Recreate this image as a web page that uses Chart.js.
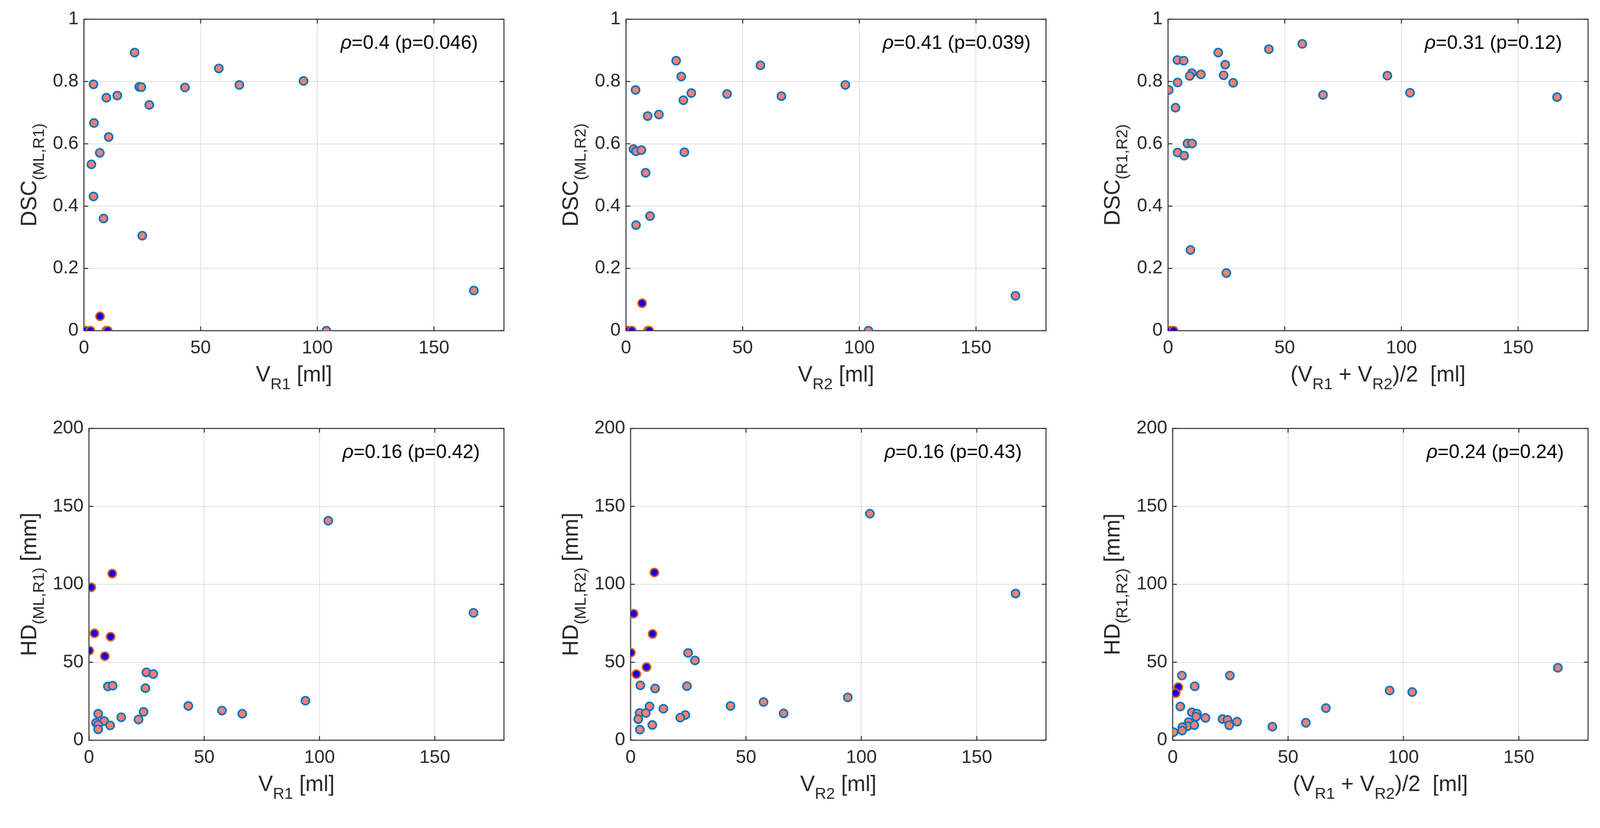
<!DOCTYPE html>
<html><head><meta charset="utf-8">
<script src="https://cdn.jsdelivr.net/npm/chart.js@4.4.0/dist/chart.umd.min.js"></script>
<style>
html,body{margin:0;padding:0;background:#fff;overflow:hidden}
#wrap{position:absolute;left:0;top:0;width:4156px;height:2120px;transform-origin:0 0;background:#fff}
canvas{position:absolute}
</style></head><body>
<div id="wrap"></div>
<script>
// ---------- tick values ----------
const xTicks = [0, 50, 100, 150];
const dscTicks = [0, 0.2, 0.4, 0.6, 0.8, 1];
const hdTicks = [0, 50, 100, 150, 200];

// ---------- panel 1: DSC(ML,R1) vs V_R1 ----------
const p1X = [21.7, 57.8, 4.1, 23.7, 24.6, 43.3, 66.6, 94.1, 9.6, 14.3, 28.0, 4.3, 10.6, 6.8, 3.2, 4.1, 8.4, 25.0, 167.1, 103.9];
const p1Y = [0.893, 0.842, 0.791, 0.783, 0.782, 0.781, 0.789, 0.802, 0.748, 0.755, 0.725, 0.667, 0.622, 0.571, 0.534, 0.431, 0.360, 0.305, 0.129, 0.0];
const p1SX = [0.3, 0.8, 2.8, 6.9, 9.6, 10.2];
const p1SY = [0, 0, 0, 0.046, 0, 0];

// ---------- panel 2: DSC(ML,R2) vs V_R2 ----------
const p2X = [21.5, 57.6, 23.7, 4.1, 94.0, 28.0, 43.3, 66.6, 24.6, 9.3, 14.1, 3.2, 4.3, 6.6, 25.0, 8.4, 10.3, 4.3, 166.9, 103.9];
const p2Y = [0.867, 0.852, 0.816, 0.773, 0.789, 0.763, 0.760, 0.753, 0.740, 0.689, 0.694, 0.583, 0.576, 0.580, 0.573, 0.507, 0.368, 0.339, 0.112, 0.0];
const p2SX = [0.4, 1.0, 2.5, 6.9, 9.4, 10.0];
const p2SY = [0, 0, 0, 0.088, 0, 0];

// ---------- panel 3: DSC(R1,R2) vs mean volume ----------
const p3X = [57.5, 43.2, 21.5, 4.0, 6.7, 24.5, 10.2, 14.1, 9.3, 23.8, 94.0, 4.1, 27.9, 0.3, 103.7, 66.4, 166.7, 3.2, 8.3, 10.3, 4.1, 6.9, 9.6, 25.0];
const p3Y = [0.921, 0.904, 0.893, 0.869, 0.867, 0.854, 0.827, 0.823, 0.818, 0.820, 0.819, 0.797, 0.796, 0.773, 0.764, 0.757, 0.750, 0.716, 0.601, 0.601, 0.572, 0.562, 0.259, 0.185];
const p3SX = [1.1, 2.4];
const p3SY = [0, 0];

// ---------- panel 4: HD(ML,R1) vs V_R1 ----------
const p4X = [103.8, 166.8, 93.9, 43.1, 57.7, 66.5, 24.9, 27.9, 8.2, 10.3, 24.5, 23.7, 21.5, 14.0, 4.0, 6.6, 3.1, 4.0, 9.2, 4.0];
const p4Y = [140.8, 81.7, 25.4, 22.0, 19.0, 17.0, 43.5, 42.5, 34.5, 35.0, 33.4, 18.2, 13.3, 14.7, 17.0, 12.3, 11.2, 9.8, 9.5, 7.0];
const p4SX = [1.0, 10.1, 2.4, 9.4, 0.1, 6.9];
const p4SY = [98.1, 106.9, 68.6, 66.4, 57.5, 53.9];

// ---------- panel 5: HD(ML,R2) vs V_R2 ----------
const p5X = [103.7, 166.8, 94.1, 57.6, 43.3, 66.3, 24.9, 27.9, 24.4, 4.2, 10.6, 8.2, 14.2, 23.7, 21.5, 3.9, 6.6, 3.3, 9.4, 4.0];
const p5Y = [145.3, 94.1, 27.5, 24.5, 22.0, 17.2, 56.0, 51.2, 34.7, 35.2, 33.2, 21.7, 20.2, 16.2, 14.5, 17.5, 17.5, 13.5, 9.8, 6.8];
const p5SX = [10.3, 1.3, 9.5, 0.1, 6.9, 2.5];
const p5SY = [107.6, 81.2, 68.2, 56.2, 46.9, 42.4];

// ---------- panel 6: HD(R1,R2) vs mean volume ----------
const p6X = [166.9, 94.0, 103.8, 66.4, 57.7, 43.2, 24.8, 4.0, 9.55, 3.3, 8.3, 10.5, 10.2, 14.2, 21.6, 23.8, 27.9, 24.5, 6.9, 6.5, 9.4, 4.2, 4.1, 0.4];
const p6Y = [46.5, 31.9, 30.9, 20.6, 11.2, 8.7, 41.5, 41.5, 34.6, 21.6, 17.9, 17.1, 15.1, 14.3, 13.6, 13.1, 11.9, 9.6, 11.6, 9.0, 9.7, 8.4, 6.2, 5.2];
const p6SX = [2.45, 1.3];
const p6SY = [34.1, 30.2];

// ---------- annotation texts ----------
const rhoTexts = ['=0.4 (p=0.046)', '=0.41 (p=0.039)', '=0.31 (p=0.12)', '=0.16 (p=0.42)', '=0.16 (p=0.43)', '=0.24 (p=0.24)'];

// ---------- labels (segments: [text, isSubscript]) ----------
const xLabelR1 = [['V', 0], ['R1', 1], [' [ml]', 0]];
const xLabelR2 = [['V', 0], ['R2', 1], [' [ml]', 0]];
const xLabelMean = [['(V', 0], ['R1', 1], [' + V', 0], ['R2', 1], [')/2  [ml]', 0]];
const yLabels = [
  [['DSC', 0], ['(ML,R1)', 1]],
  [['DSC', 0], ['(ML,R2)', 1]],
  [['DSC', 0], ['(R1,R2)', 1]],
  [['HD', 0], ['(ML,R1)', 1], [' [mm]', 0]],
  [['HD', 0], ['(ML,R2)', 1], [' [mm]', 0]],
  [['HD', 0], ['(R1,R2)', 1], [' [mm]', 0]]
];

// ---------- layout & style ----------
const FONT = "'Liberation Sans', Arial, Helvetica, sans-serif";
const TXT = '#262626';
const LAYOUT = [
  {L: 218, T: 50, R: 1309, B: 859, yl: 124},
  {L: 1626, T: 50, R: 2717, B: 859, yl: 125},
  {L: 3034, T: 50, R: 4125, B: 859, yl: 126},
  {L: 231, T: 1113, R: 1309, B: 1923, yl: 137},
  {L: 1638, T: 1113, R: 2717, B: 1923, yl: 137},
  {L: 3046, T: 1113, R: 4125, B: 1923, yl: 138}
];
const PADL = 240, PADT = 50, PADR = 30, PADB = 230;
const MAIN = 57, SUB = 41, SUBDY = 20;

const panels = [
  {x: p1X, y: p1Y, sx: p1SX, sy: p1SY, yTicks: dscTicks, yMax: 1, xl: xLabelR1},
  {x: p2X, y: p2Y, sx: p2SX, sy: p2SY, yTicks: dscTicks, yMax: 1, xl: xLabelR2},
  {x: p3X, y: p3Y, sx: p3SX, sy: p3SY, yTicks: dscTicks, yMax: 1, xl: xLabelMean},
  {x: p4X, y: p4Y, sx: p4SX, sy: p4SY, yTicks: hdTicks, yMax: 200, xl: xLabelR1},
  {x: p5X, y: p5Y, sx: p5SX, sy: p5SY, yTicks: hdTicks, yMax: 200, xl: xLabelR2},
  {x: p6X, y: p6Y, sx: p6SX, sy: p6SY, yTicks: hdTicks, yMax: 200, xl: xLabelMean}
];

// fit the 4156x2120 design into the actual viewport
const wrap = document.getElementById('wrap');
const vw = window.innerWidth || 4156, vh = window.innerHeight || 2120;
const k = Math.min(vw / 4156, vh / 2120);
wrap.style.transform = 'scale(' + k + ')';

function drawSegs(ctx, segs, cx, baseY) {
  let total = 0;
  const widths = segs.map(([t, s]) => {
    ctx.font = (s ? SUB : MAIN) + 'px ' + FONT;
    const w = ctx.measureText(t).width; total += w; return w;
  });
  let x = cx - total / 2;
  segs.forEach(([t, s], i) => {
    ctx.font = (s ? SUB : MAIN) + 'px ' + FONT;
    ctx.fillText(t, x, baseY + (s ? SUBDY : 0));
    x += widths[i];
  });
}

panels.forEach((p, idx) => {
  const lay = LAYOUT[idx];
  const cv = document.createElement('canvas');
  const W = (lay.R - lay.L) + PADL + PADR;
  const H = (lay.B - lay.T) + PADT + PADB;
  cv.width = W; cv.height = H;
  cv.style.left = (lay.L - PADL) + 'px';
  cv.style.top = (lay.T - PADT) + 'px';
  cv.style.width = W + 'px'; cv.style.height = H + 'px';
  wrap.appendChild(cv);

  const deco = {
    id: 'deco' + idx,
    beforeDatasetsDraw(chart) {
      const {ctx, chartArea: a, scales} = chart;
      ctx.save();
      ctx.strokeStyle = TXT; ctx.lineWidth = 2.5;
      ctx.strokeRect(a.left, a.top, a.right - a.left, a.bottom - a.top);
      const tl = 11;
      ctx.beginPath();
      xTicks.forEach(v => {
        const px = scales.x.getPixelForValue(v);
        ctx.moveTo(px, a.bottom); ctx.lineTo(px, a.bottom - tl);
        ctx.moveTo(px, a.top); ctx.lineTo(px, a.top + tl);
      });
      p.yTicks.forEach(v => {
        const py = scales.y.getPixelForValue(v);
        ctx.moveTo(a.left, py); ctx.lineTo(a.left + tl, py);
        ctx.moveTo(a.right, py); ctx.lineTo(a.right - tl, py);
      });
      ctx.stroke();
      ctx.restore();
    },
    afterDraw(chart) {
      const {ctx, chartArea: a, scales} = chart;
      ctx.save();
      ctx.fillStyle = TXT;
      ctx.textBaseline = 'alphabetic';
      ctx.textAlign = 'left';
      drawSegs(ctx, p.xl, (a.left + a.right) / 2, a.bottom + 132);
      ctx.save();
      ctx.translate(a.left - lay.yl, (a.top + a.bottom) / 2);
      ctx.rotate(-Math.PI / 2);
      drawSegs(ctx, yLabels[idx], 0, 0);
      ctx.restore();
      ctx.fillStyle = '#000';
      const ax = scales.x.getPixelForValue(110);
      const ay = scales.y.getPixelForValue(0.905 * p.yMax);
      ctx.font = 'italic 50px ' + FONT;
      ctx.fillText('\u03C1', ax, ay);
      const rw = ctx.measureText('\u03C1').width;
      ctx.font = '50px ' + FONT;
      ctx.fillText(rhoTexts[idx], ax + rw, ay);
      ctx.restore();
    }
  };

  new Chart(cv, {
    type: 'scatter',
    data: {
      datasets: [
        {
          data: p.x.map((v, i) => ({x: v, y: p.y[i]})),
          backgroundColor: '#FA8072', borderColor: '#0072BD',
          borderWidth: 4, pointRadius: 10.5, pointHoverRadius: 10.5
        },
        {
          data: p.sx.map((v, i) => ({x: v, y: p.sy[i]})),
          backgroundColor: '#0000FF', borderColor: '#D95319',
          borderWidth: 4, pointRadius: 10.5, pointHoverRadius: 10.5
        }
      ]
    },
    options: {
      responsive: false, animation: false, devicePixelRatio: 1, events: [],
      layout: {padding: {left: 0, top: PADT, right: PADR, bottom: 0}},
      plugins: {legend: {display: false}, tooltip: {enabled: false}},
      scales: {
        x: {
          type: 'linear', min: 0, max: 180,
          afterBuildTicks: s => { s.ticks = xTicks.map(v => ({value: v})); },
          afterFit: s => { s.height = PADB; },
          grid: {color: '#dfdfdf', lineWidth: 2, drawTicks: false},
          border: {display: false},
          ticks: {font: {family: FONT, size: 48}, color: TXT, padding: 17, maxRotation: 0,
                  callback: v => String(v)}
        },
        y: {
          type: 'linear', min: 0, max: p.yMax,
          afterBuildTicks: s => { s.ticks = p.yTicks.map(v => ({value: v})); },
          afterFit: s => { s.width = PADL; },
          grid: {color: '#dfdfdf', lineWidth: 2, drawTicks: false},
          border: {display: false},
          ticks: {font: {family: FONT, size: 48}, color: TXT, padding: 14,
                  callback: v => String(v)}
        }
      }
    },
    plugins: [deco]
  });
});
</script>
</body></html>
